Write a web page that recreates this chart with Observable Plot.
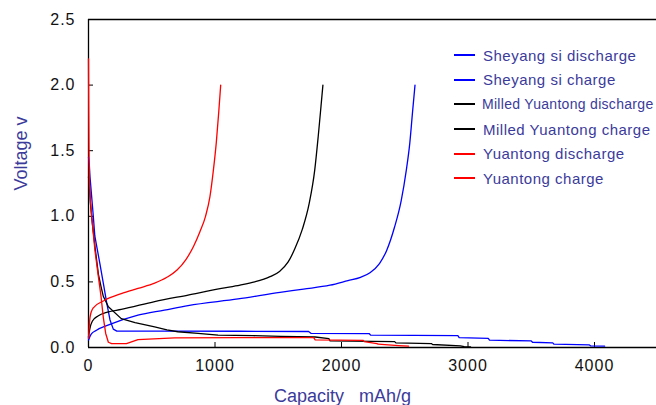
<!DOCTYPE html>
<html><head><meta charset="utf-8">
<script src="https://cdn.jsdelivr.net/npm/d3@7"></script>
<script src="https://cdn.jsdelivr.net/npm/@observablehq/plot@0.6"></script>
<style>
body{margin:0;background:#fff;}
#wrap{position:relative;width:656px;height:405px;overflow:hidden;font-family:"Liberation Sans",Arial,Helvetica,sans-serif;}
#wrap svg{position:absolute;left:0;top:0;}
#legend{position:absolute;left:454px;top:43px;}
.row{display:flex;align-items:center;height:24.6px;}
.swatch{width:21px;height:0;border-top:2px solid;margin-right:8px;}
.lab{color:#3b3b9b;font-size:15px;letter-spacing:0.5px;white-space:nowrap;line-height:1;}
</style></head><body><div id="wrap"></div>
<script>
const xTicks = [0, 1000, 2000, 3000, 4000];
const yTicks = [0, 0.5, 1.0, 1.5, 2.0, 2.5];
const xTitle = "Capacity\u00a0\u00a0\u00a0mAh/g";
const yTitle = "Voltage v";
const seriesNames = ["Sheyang si discharge", "Sheyang si charge", "Milled Yuantong discharge", "Milled Yuantong charge", "Yuantong discharge", "Yuantong charge"];
const seriesColors = ["#0000ff", "#0000ff", "#000000", "#000000", "#ff0000", "#ff0000"];
const seriesKinds = ["discharge", "charge", "discharge", "charge", "discharge", "charge"];

// [capacity mAh/g, voltage V]
const sheyangDischarge = [[0,1.45],[6,1.4],[12,1.3],[25,1.15],[38,1.0],[50,0.85],[65,0.77],[90,0.64],[117,0.49],[144,0.34],[170,0.21],[196,0.14],[224,0.125],[600,0.125],[1200,0.124],[1740,0.122],[1760,0.107],[2220,0.105],[2230,0.094],[2920,0.09],[2930,0.075],[3160,0.069],[3170,0.056],[3500,0.05],[3510,0.04],[3670,0.035],[3680,0.025],[3960,0.02],[3970,0.012],[4080,0.01]];
const sheyangCharge = [[0,0.056],[20,0.1],[60,0.13],[154,0.17],[391,0.246],[600,0.285],[787,0.32],[1182,0.37],[1514,0.42],[1700,0.445],[1909,0.475],[2051,0.51],[2150,0.535],[2225,0.57],[2300,0.64],[2357,0.74],[2420,0.92],[2472,1.12],[2512,1.35],[2540,1.56],[2562,1.8],[2581,2.0]];
const milledDischarge = [[0,1.3],[8,1.22],[15,1.1],[30,0.95],[51,0.77],[78,0.56],[100,0.46],[117,0.39],[157,0.31],[259,0.22],[368,0.19],[523,0.157],[620,0.135],[707,0.12],[866,0.107],[1024,0.094],[1300,0.09],[1520,0.085],[1792,0.08],[1900,0.068],[1910,0.05],[2420,0.045],[2430,0.035],[2710,0.03],[2720,0.023],[2940,0.012],[2970,0.006],[3020,0.005]];
const milledCharge = [[0,0.08],[10,0.14],[30,0.2],[75,0.24],[150,0.27],[259,0.29],[523,0.35],[787,0.4],[1051,0.45],[1198,0.475],[1314,0.5],[1435,0.54],[1510,0.58],[1577,0.65],[1630,0.75],[1690,0.9],[1745,1.1],[1788,1.35],[1816,1.61],[1838,1.84],[1853,2.0]];
const yuantongDischarge = [[0,2.2],[2,1.8],[4,1.5],[8,1.25],[15,1.12],[25,1.0],[51,0.74],[78,0.54],[99,0.39],[117,0.23],[136,0.107],[157,0.04],[183,0.03],[300,0.03],[391,0.06],[682,0.073],[1200,0.075],[1780,0.075],[1792,0.058],[2170,0.055],[2180,0.045],[2280,0.03],[2290,0.025],[2450,0.015],[2530,0.01]];
const yuantongCharge = [[0,0.07],[5,0.15],[12,0.23],[36,0.3],[128,0.36],[259,0.41],[391,0.45],[523,0.49],[620,0.535],[700,0.59],[770,0.67],[830,0.77],[880,0.88],[925,1.0],[960,1.15],[987,1.35],[1010,1.56],[1030,1.8],[1045,2.0]];

const seriesData = [sheyangDischarge, sheyangCharge, milledDischarge, milledCharge, yuantongDischarge, yuantongCharge];
const rows = seriesData.flatMap((pts, i) => pts.map(([x, v]) => ({series: seriesNames[i], x, v})));

const titleColor = "#3b3b9b";

const chart = Plot.plot({
  width: 656,
  height: 405,
  marginLeft: 88,
  marginRight: 0,
  marginTop: 19,
  marginBottom: 58,
  style: {fontFamily: '"Liberation Sans", Arial, sans-serif', background: "transparent"},
  x: {domain: [0, 4490]},
  y: {domain: [0, 2.5]},
  marks: [
    Plot.ruleY([0, 2.5], {stroke: "#000", strokeWidth: 1.3}),
    Plot.ruleX([0], {stroke: "#000", strokeWidth: 1.3}),
    Plot.axisX({ticks: xTicks, tickSize: -5, tickPadding: 17, tickFormat: d3.format("d"), fontSize: 16, fill: "#111", label: null}),
    Plot.axisY({ticks: yTicks, tickSize: -5, tickPadding: 18, tickFormat: d3.format(".1f"), fontSize: 16, fill: "#111", label: null}),
    ...seriesNames.map((name, i) => Plot.line(rows.filter(r => r.series === name), {
      x: "x", y: "v", stroke: seriesColors[i], strokeWidth: 1.3,
      curve: seriesKinds[i] === "charge" ? "monotone-x" : "linear"
    })),
    Plot.text([yTitle], {frameAnchor: "left", dx: -67, dy: 7, rotate: -90, fontSize: 18, fill: titleColor}),
    Plot.text([xTitle], {frameAnchor: "bottom", dx: -30, dy: 54, lineAnchor: "bottom", fontSize: 18, fill: titleColor})
  ]
});
d3.select(chart).selectAll("[aria-label$='tick label'] text").style("letter-spacing", "1px");

const wrap = document.getElementById("wrap");
wrap.appendChild(chart);

const legend = document.createElement("div");
legend.id = "legend";
seriesNames.forEach((name, i) => {
  const row = document.createElement("div");
  row.className = "row";
  const sw = document.createElement("div");
  sw.className = "swatch";
  sw.style.borderTopColor = seriesColors[i];
  const lab = document.createElement("span");
  lab.className = "lab";
  lab.textContent = name;
  if (name.length > 22) { lab.style.fontSize = "14px"; lab.style.letterSpacing = "0.3px"; sw.style.marginRight = "7px"; }
  row.appendChild(sw);
  row.appendChild(lab);
  legend.appendChild(row);
});
wrap.appendChild(legend);
</script>
</body></html>
